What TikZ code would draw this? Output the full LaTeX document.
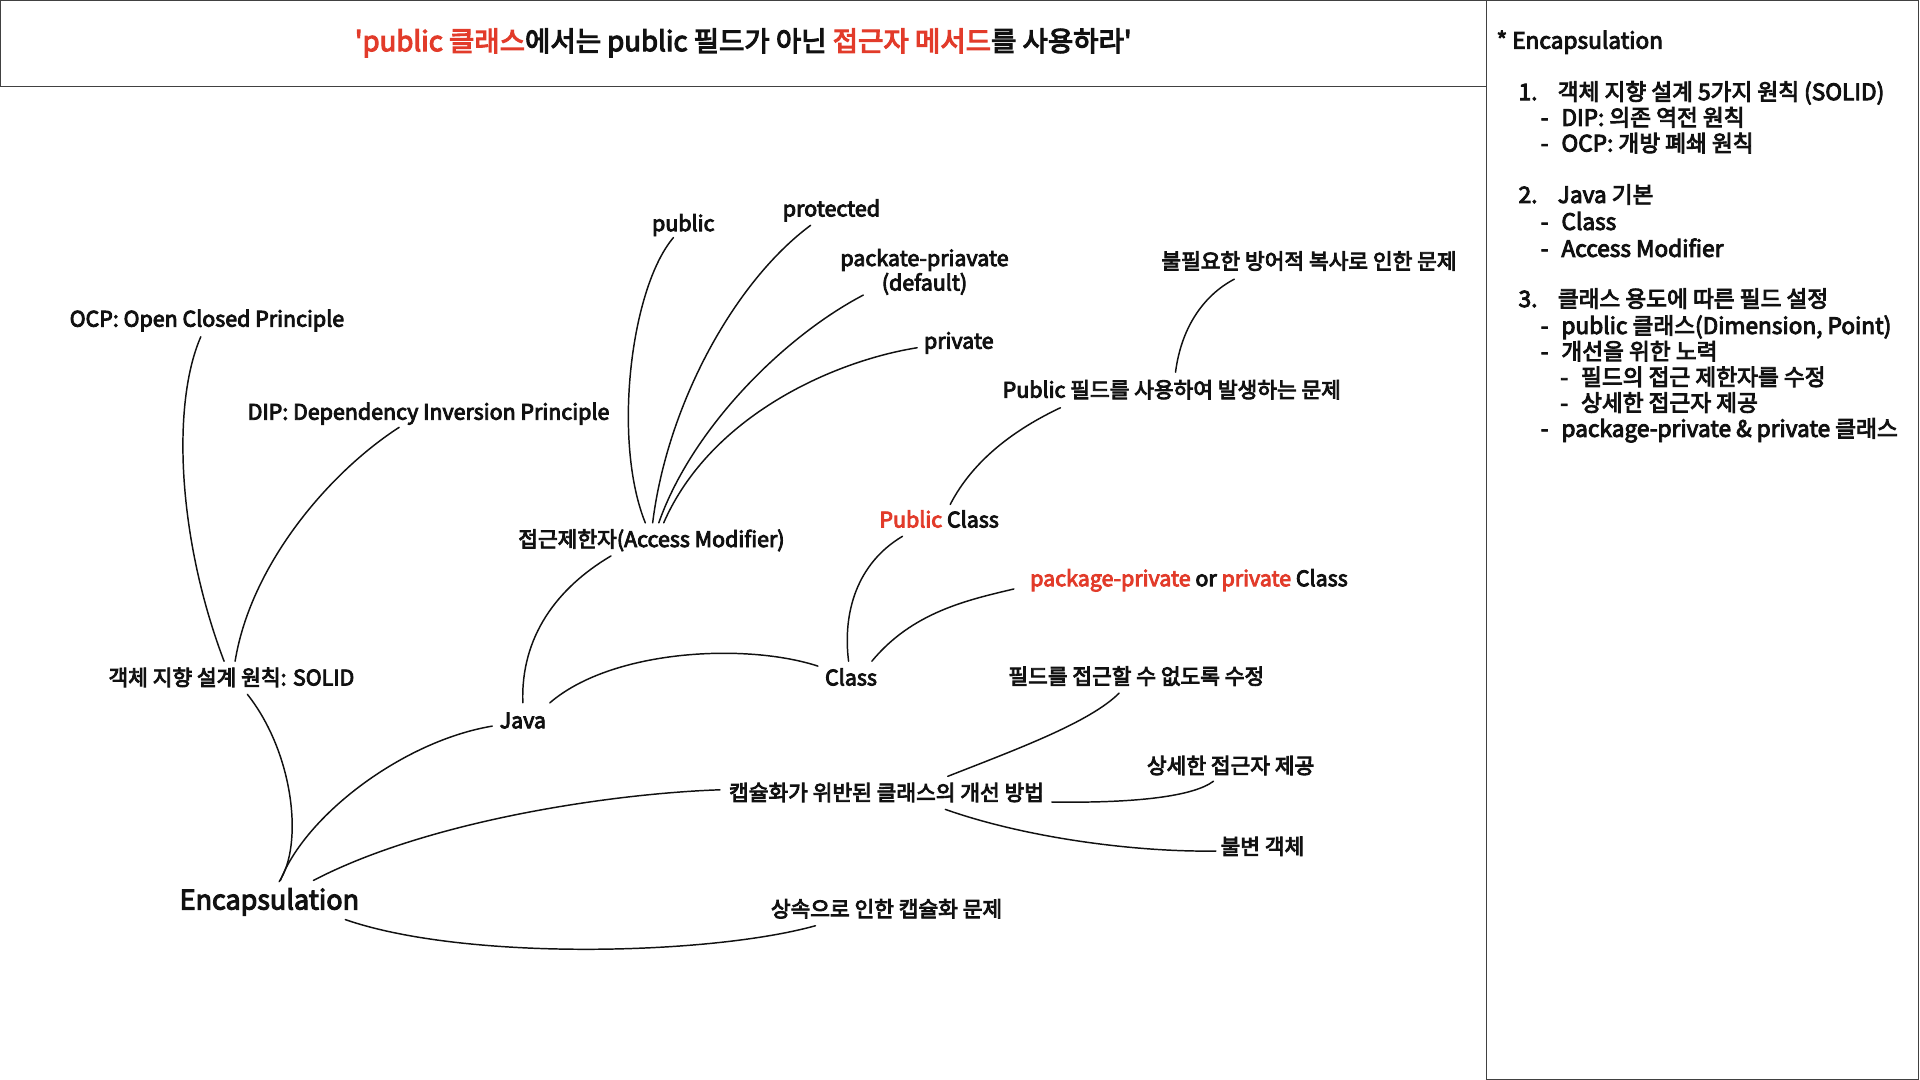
\documentclass[tikz,border=0pt]{standalone}
\usepackage{fontspec}
\newfontfamily\kr{Noto Sans CJK KR}[FakeBold=4]
\definecolor{accent}{RGB}{226,59,42}
\definecolor{ink}{RGB}{17,17,17}
\tikzset{
  lblbase/.style={font=\kr\fontsize{17.5}{20}\selectfont, text=ink, inner sep=0pt},
  lbl/.style={lblbase, text height=1.15em, text depth=0em},
  big/.style={lbl, font=\kr\fontsize{22}{26}\selectfont},
  ttl/.style={lbl, font=\kr\fontsize{22.5}{26}\selectfont},
  side/.style={lbl, anchor=west, font=\kr\fontsize{18.5}{21}\selectfont},
  conn/.style={draw=ink, line width=1.2pt, line cap=round},
  frame/.style={draw=ink!80, line width=0.8pt}
}
\begin{document}
\begin{tikzpicture}[x=1pt,y=-1pt]
\useasboundingbox (0,0) rectangle (1568,882);
\fill[white] (0,0) rectangle (1568,882);
% frames
\draw[frame] (0.5,0.5) rectangle (1214,71);
\draw[frame] (1214,0.5) rectangle (1567,881.5);
% title
\node[ttl] (title) at (607,36) {{\color{accent}'public 클래스}에서는 public 필드가 아닌 {\color{accent}접근자 메서드}를 사용하라'};
% side panel
\node[side] (s0) at (1222,34) {* Encapsulation};
\node[side] (s1) at (1240,76) {\makebox[32pt][l]{1.}객체 지향 설계 5가지 원칙 (SOLID)};
\node[side] (s2) at (1258,97) {\makebox[17pt][l]{-}DIP: 의존 역전 원칙};
\node[side] (s3) at (1258,118) {\makebox[17pt][l]{-}OCP: 개방 폐쇄 원칙};
\node[side] (s4) at (1240,160) {\makebox[32pt][l]{2.}Java 기본};
\node[side] (s5) at (1258,182) {\makebox[17pt][l]{-}Class};
\node[side] (s6) at (1258,204) {\makebox[17pt][l]{-}Access Modifier};
\node[side] (s7) at (1240,245) {\makebox[32pt][l]{3.}클래스 용도에 따른 필드 설정};
\node[side] (s8) at (1258,267) {\makebox[17pt][l]{-}public 클래스(Dimension, Point)};
\node[side] (s9) at (1258,288) {\makebox[17pt][l]{-}개선을 위한 노력};
\node[side] (s10) at (1274,309) {\makebox[17pt][l]{-}필드의 접근 제한자를 수정};
\node[side] (s11) at (1274,330) {\makebox[17pt][l]{-}상세한 접근자 제공};
\node[side] (s12) at (1258,351) {\makebox[17pt][l]{-}package-private \& private 클래스};
% mind map nodes
\node[lbl] (ocp) at (169,261) {OCP: Open Closed Principle};
\node[lbl] (dip) at (350,337) {DIP: Dependency Inversion Principle};
\node[lbl] (solid) at (189,554) {객체 지향 설계 원칙: SOLID};
\node[big] (enc) at (220,737) {Encapsulation};
\node[lbl] (java) at (427,589) {Java};
\node[lbl] (am) at (532,441) {접근제한자(Access Modifier)};
\node[lbl] (pub) at (558,183) {public};
\node[lbl] (prot) at (679,171) {protected};
\node[lblbase, align=center] (pkgdef) at (755,222) {packate-priavate\\(default)};
\node[lbl] (priv) at (783,279) {private};
\node[lbl] (cls) at (695,554) {Class};
\node[lbl] (pubcls) at (767,425) {{\color{accent}Public} Class};
\node[lbl] (pkgcls) at (971,473) {{\color{accent}package-private} or {\color{accent}private} Class};
\node[lbl] (pfield) at (957,319) {Public 필드를 사용하여 발생하는 문제};
\node[lbl] (defcopy) at (1069,214) {불필요한 방어적 복사로 인한 문제};
\node[lbl] (improve) at (724,648) {캡슐화가 위반된 클래스의 개선 방법};
\node[lbl] (nofield) at (928,553) {필드를 접근할 수 없도록 수정};
\node[lbl] (accessor) at (1005,626) {상세한 접근자 제공};
\node[lbl] (immut) at (1031,692) {불변 객체};
\node[lbl] (inherit) at (724,743) {상속으로 인한 캡슐화 문제};
% connectors
\draw[conn] ([shift={(-5,14)}]ocp.center) .. controls (140,330) and (145,440) .. ([shift={(-6,-14)}]solid.center);
\draw[conn] ([shift={(-24,12)}]dip.center) .. controls (270,385) and (205,460) .. ([shift={(3,-14)}]solid.center);
\draw[conn] ([shift={(13,13)}]solid.center) .. controls (240,615) and (248,690) .. ([shift={(8,-17)}]enc.center);
\draw[conn] ([shift={(-25,4)}]java.center) .. controls (330,605) and (250,665) .. ([shift={(9,-18)}]enc.center);
\draw[conn] ([shift={(-136,-3)}]improve.center) .. controls (500,648) and (350,670) .. ([shift={(36,-18)}]enc.center);
\draw[conn] ([shift={(62,14)}]enc.center) .. controls (380,785) and (580,780) .. ([shift={(-58,13)}]inherit.center);
\draw[conn] ([shift={(0,-15)}]java.center) .. controls (425,520) and (455,480) .. ([shift={(-33,13)}]am.center);
\draw[conn] ([shift={(22,-15)}]java.center) .. controls (500,530) and (610,525) .. ([shift={(-27,-10)}]cls.center);
\draw[conn] ([shift={(-8,11)}]pub.center) .. controls (515,235) and (500,360) .. ([shift={(-5,-14)}]am.center);
\draw[conn] ([shift={(-17,13)}]prot.center) .. controls (600,230) and (545,330) .. ([shift={(1,-14)}]am.center);
\draw[conn] ([shift={(-50,19)}]pkgdef.center) .. controls (640,275) and (565,350) .. ([shift={(6,-14)}]am.center);
\draw[conn] ([shift={(-34,5)}]priv.center) .. controls (680,295) and (580,340) .. ([shift={(10,-14)}]am.center);
\draw[conn] ([shift={(-2,-14)}]cls.center) .. controls (688,500) and (700,460) .. ([shift={(-30,13)}]pubcls.center);
\draw[conn] ([shift={(17,-14)}]cls.center) .. controls (745,500) and (790,490) .. ([shift={(-143,8)}]pkgcls.center);
\draw[conn] ([shift={(9,-13)}]pubcls.center) .. controls (795,375) and (830,350) .. ([shift={(-91,14)}]pfield.center);
\draw[conn] ([shift={(3,-15)}]pfield.center) .. controls (965,265) and (985,240) .. ([shift={(-61,14)}]defcopy.center);
\draw[conn] ([shift={(50,-14)}]improve.center) .. controls (830,612) and (890,590) .. ([shift={(-14,13)}]nofield.center);
\draw[conn] ([shift={(135,7)}]improve.center) .. controls (930,656) and (975,650) .. ([shift={(-14,12)}]accessor.center);
\draw[conn] ([shift={(48,13)}]improve.center) .. controls (840,685) and (930,696) .. ([shift={(-38,3)}]immut.center);
\end{tikzpicture}
\end{document}
